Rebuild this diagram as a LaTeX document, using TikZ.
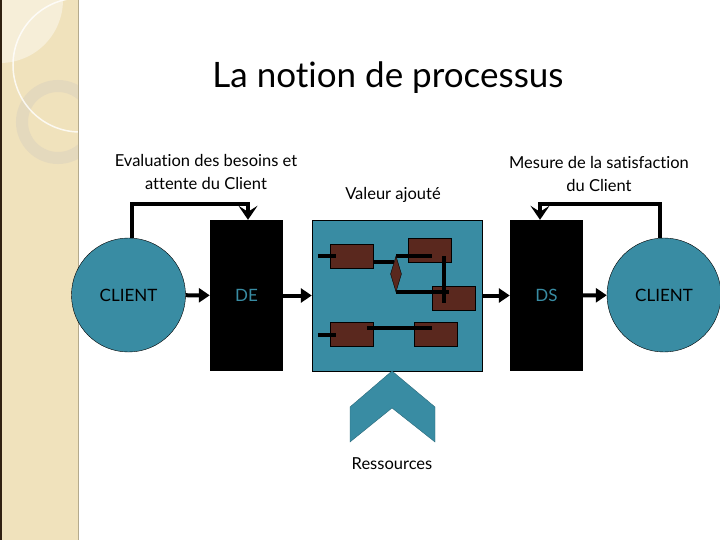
\documentclass[tikz,border=0pt]{standalone}
\usepackage{fontspec}
\setmainfont{Lato}[Ligatures=NoCommon]
\usetikzlibrary{arrows.meta, positioning, shapes.geometric}
\definecolor{sable}{RGB}{240,226,188}
\definecolor{sableclair}{RGB}{246,238,216}
\definecolor{anneau}{RGB}{228,217,189}
\definecolor{canard}{RGB}{57,140,163}
\definecolor{brique}{RGB}{90,40,30}
\tikzset{
client/.style={circle, draw=black, fill=canard, minimum size=114pt, inner sep=0pt, font=\fontsize{17}{20}\selectfont}, % cercles CLIENT
bloc/.style={fill=black, minimum width=73pt, minimum height=151pt, inner sep=0pt, text=canard, font=\fontsize{17}{20}\selectfont}, % DE et DS
tache/.style={draw=black, fill=brique, minimum width=43pt, minimum height=24pt, inner sep=0pt},
fleche/.style={line width=4pt, -{Triangle[length=11pt,width=14pt]}},
boucle/.style={line width=4.5pt, -{Stealth[length=14pt,width=19pt,inset=6pt]}},
trait/.style={line width=4pt},
legende/.style={align=center, font=\fontsize{16.5}{23}\selectfont},
}
\begin{document}
\begin{tikzpicture}[x=1pt, y=-1pt]
\useasboundingbox (0,0) rectangle (720,540);
% bande de gauche
\fill[sable] (0,0) rectangle (79,540);
\begin{scope}
\clip (0,0) rectangle (78,540);
\fill[sableclair] (0,0) circle (63);
\draw[anneau, line width=12pt] (58,122) circle (36);
\draw[white, opacity=0.8, line width=1.5pt] (80,65) circle (67);
\end{scope}
\draw[black!75!brown, line width=1.5pt] (0.75,0) -- (0.75,540);
\draw[black!25!sable, line width=1pt] (78.5,0) -- (78.5,540);
% titre
\node (titre) at (388,78) {\fontsize{35}{40}\selectfont La notion de processus};
% noeuds
\node[client] (cg) at (128.5,295) {CLIENT};
\node[bloc] (de) at (246.5,295.5) {DE};
\node[draw=black, fill=canard, minimum width=170pt, minimum height=151pt] (proc) at (397,295.5) {};
\node[bloc] (ds) at (546.5,295.5) {DS};
\node[client] (cd) at (664,295) {CLIENT};
% interieur du processus
\node[tache] (ta) at (351.5,256) {};
\node[tache] (tb) at (429.5,250) {};
\node[tache] (tc) at (453.5,298) {};
\node[tache] (td) at (351.5,334.5) {};
\node[tache] (te) at (435.5,334.5) {};
\draw[trait] ([xshift=-12pt]ta.west) -- ([xshift=6pt]ta.west);
\draw[trait] ([xshift=-12pt]td.west) -- ([xshift=6pt]td.west);
\draw[trait] (ta.east |- 0,262) -- (394,262);
\draw[trait] (396,256) -- (432,256);
\draw[trait] (444,256) -- (444,303);
\draw[trait] (396,292) -- (449,292);
\draw[trait] (367,328) -- (432,328);
\node[diamond, draw=black, fill=brique, minimum width=11pt, minimum height=36pt, inner sep=0pt] (choix) at (396,274) {};
% ressources
\fill[canard, draw=canard!75!black] (392,371) -- (435,407) -- (435,442) -- (392,408) -- (350,442) -- (350,407) -- cycle;
% fleches
\draw[fleche] (cg) -- (de);
\draw[fleche] (de) -- (proc);
\draw[fleche] (proc) -- (ds);
\draw[fleche] (ds) -- (cd);
\draw[boucle] ([xshift=3.5pt]cg.north) -- ++(0,-34) -| ([xshift=1.5pt]de.north);
\draw[boucle] ([xshift=-4pt]cd.north) -- ++(0,-34) -| ([xshift=-6.5pt]ds.north);
% textes
\node[legende] (besoins) at (206,172) {Evaluation des besoins et\\attente du Client};
\node[legende] (valeur) at (393,195) {Valeur ajouté};
\node[legende] (mesure) at (599,174) {Mesure de la satisfaction\\du Client};
\node[legende] (res) at (392,464) {Ressources};
\end{tikzpicture}
\end{document}
